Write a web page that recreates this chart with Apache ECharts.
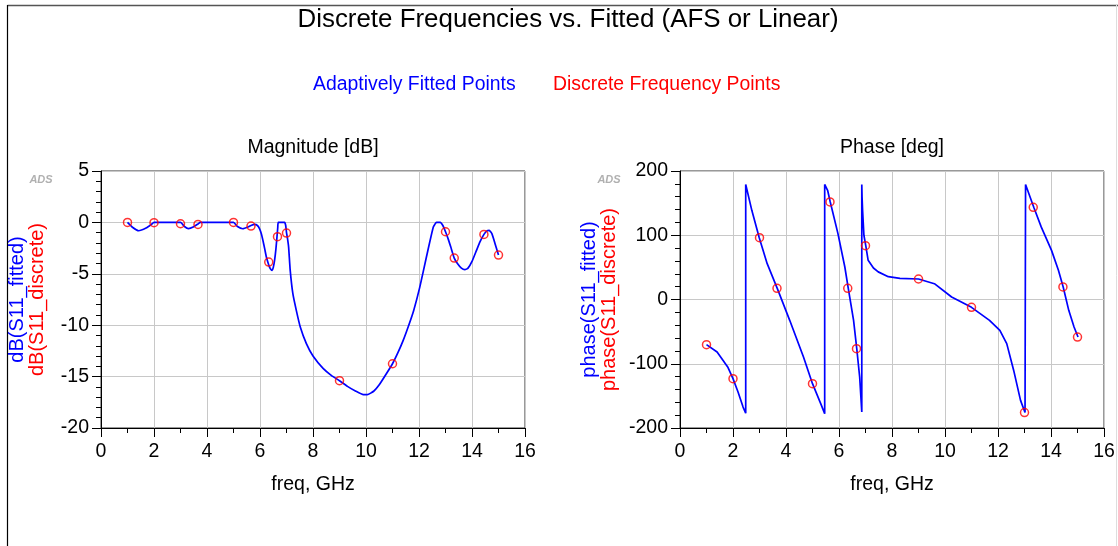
<!DOCTYPE html>
<html>
<head>
<meta charset="utf-8">
<script src="https://cdn.jsdelivr.net/npm/echarts@6/dist/echarts.min.js"></script>
<style>
  html, body { margin: 0; padding: 0; background: #fff; }
  #chart { width: 1118px; height: 546px; }
</style>
</head>
<body>
<div id="chart"></div>
<script>
// Discrete simulation frequencies (GHz) with measured S11 magnitude and phase
const discFreq  = [1, 2, 3, 3.66, 5, 5.66, 6.33, 6.66, 7, 9, 11, 13, 13.33, 14.45, 15];
const discMag   = [0, -0.03, -0.13, -0.2, 0, -0.36, -3.86, -1.39, -1.04, -15.4, -13.75, -0.91, -3.47, -1.17, -3.18];
const discPhase = [-70.3, -123.2, 96.2, 17.4, -131, 151.8, 17.4, -76.5, 83.8, 31.9, -12.2, -176, 143.5, 19.5, -58.4];

// Adaptively fitted magnitude response (dB)
const fitMagFreq = [1.0, 1.2, 1.42, 1.7, 1.9, 2.0, 3.0, 3.15, 3.3, 3.5, 3.66, 3.75, 5.0, 5.15, 5.35, 5.55, 5.66, 5.8, 5.9, 5.98, 6.05, 6.11, 6.18, 6.24, 6.3, 6.36, 6.42, 6.46, 6.5, 6.55, 6.6, 6.64, 6.67, 6.69, 6.93, 6.97, 7.0, 7.04, 7.08, 7.14, 7.24, 7.37, 7.52, 7.75, 8.0, 8.38, 8.7, 9.0, 9.3, 9.6, 9.9, 10.05, 10.3, 10.5, 10.75, 11.0, 11.2, 11.4, 11.6, 11.8, 12.03, 12.28, 12.54, 12.66, 12.8, 12.9, 13.0, 13.1, 13.2, 13.33, 13.45, 13.6, 13.73, 13.85, 14.0, 14.17, 14.3, 14.45, 14.55, 14.65, 14.75, 14.87, 15.0];
const fitMag     = [0, -0.5, -0.81, -0.55, -0.2, 0, 0, -0.4, -0.6, -0.42, -0.15, 0, 0, -0.4, -0.62, -0.45, -0.3, -0.2, -0.3, -0.6, -1.1, -1.75, -2.6, -3.37, -3.9, -4.35, -4.6, -4.67, -4.4, -3.7, -2.6, -1.43, -0.5, 0, 0, -0.3, -1.0, -1.6, -2.4, -4.67, -6.94, -8.56, -10.18, -11.8, -13.0, -14.2, -14.9, -15.4, -15.95, -16.4, -16.76, -16.76, -16.4, -15.8, -14.8, -13.75, -12.7, -11.5, -10.1, -8.56, -6.3, -3.37, -0.45, 0, 0, -0.3, -0.91, -1.6, -2.4, -3.47, -4.0, -4.45, -4.6, -4.45, -3.8, -2.72, -1.9, -1.17, -0.85, -0.78, -1.1, -2.07, -3.18];

// Adaptively fitted phase response (deg), wrapped to +/-180
const fitPhFreq = [1.0, 1.4, 1.8, 2.0, 2.19, 2.38, 2.48, 2.48, 2.71, 2.99, 3.29, 3.67, 4.14, 4.66, 5.0, 5.31, 5.46, 5.46, 5.57, 5.67, 5.96, 6.22, 6.35, 6.55, 6.67, 6.78, 6.86, 6.86, 6.87, 6.89, 6.94, 7.01, 7.1, 7.3, 7.48, 7.86, 8.3, 9.0, 9.6, 10.25, 11.0, 11.68, 12.07, 12.33, 12.59, 12.85, 13.02, 13.04, 13.04, 13.35, 13.63, 14.02, 14.28, 14.46, 14.67, 14.87, 15.02];
const fitPhase  = [-70.3, -81.7, -105, -123.2, -144, -167.4, -177, 179, 138.8, 96.2, 55.8, 17.4, -32.4, -89.5, -131, -162, -177.7, 179, 170, 151.8, 102.5, 50.6, 17.4, -32.4, -76.5, -120.6, -175, 179, 160, 139, 100, 83.8, 61, 49, 43, 35.5, 33, 31.9, 24.6, 3.9, -12.2, -32.4, -48, -68.7, -110, -157, -176, -177, 179, 143.5, 113, 76.5, 45.4, 19.5, -16.9, -42.8, -58.4];

const xTicks = { min: 0, max: 16, interval: 2 };
const magTicks = { min: -20, max: 5, interval: 5 };
const phTicks = { min: -200, max: 200, interval: 100 };

const FONT = 'Arial, "Liberation Sans", sans-serif';
const BLUE = '#0000ff';
const RED = '#ff0000';
const TXT = 19.5;

const pairs = (xs, ys) => xs.map((x, i) => [x, ys[i]]);

function xAxisFor(gridIndex) {
  return {
    type: 'value', gridIndex,
    min: xTicks.min, max: xTicks.max, interval: xTicks.interval,
    name: 'freq, GHz', nameLocation: 'middle', nameGap: 47,
    nameTextStyle: { fontFamily: FONT, fontSize: TXT, color: '#000' },
    axisLine: { show: true, onZero: false, lineStyle: { color: '#000', width: 1 } },
    axisTick: { show: true, length: 9, lineStyle: { color: '#000' } },
    minorTick: { show: true, splitNumber: 2, length: 5, lineStyle: { color: '#000' } },
    splitLine: { show: true, lineStyle: { color: '#c8c8c8', width: 1 } },
    axisLabel: { fontFamily: FONT, fontSize: TXT, color: '#000', margin: 14 }
  };
}

function yAxisFor(gridIndex, ticks, l1, l2, gap) {
  return {
    type: 'value', gridIndex,
    min: ticks.min, max: ticks.max, interval: ticks.interval,
    name: '{a|' + l1 + '}\n{b|' + l2 + '}',
    nameLocation: 'middle', nameRotate: 90, nameGap: gap,
    nameTextStyle: {
      fontFamily: FONT, fontSize: 20, lineHeight: 20,
      rich: {
        a: { color: BLUE, fontFamily: FONT, fontSize: 20, lineHeight: 20 },
        b: { color: RED, fontFamily: FONT, fontSize: 20, lineHeight: 20 }
      }
    },
    axisLine: { show: true, onZero: false, lineStyle: { color: '#000', width: 1 } },
    axisTick: { show: true, length: 9, lineStyle: { color: '#000' } },
    minorTick: { show: true, splitNumber: 5, length: 5, lineStyle: { color: '#000' } },
    splitLine: { show: true, lineStyle: { color: '#c8c8c8', width: 1 } },
    axisLabel: { fontFamily: FONT, fontSize: TXT, color: '#000', margin: 12 }
  };
}

function fitted(idx, data, smooth) {
  return {
    type: 'line', xAxisIndex: idx, yAxisIndex: idx, data,
    showSymbol: false, symbol: 'none', smooth,
    lineStyle: { color: BLUE, width: 1.7 }, z: 3, animation: false
  };
}

function discrete(idx, data) {
  return {
    type: 'scatter', xAxisIndex: idx, yAxisIndex: idx, data,
    symbol: 'circle', symbolSize: 8,
    itemStyle: { color: 'rgba(0,0,0,0)', borderColor: RED, borderWidth: 1.5 },
    z: 4, animation: false
  };
}

function label(x, y, text, size, color, extra) {
  return {
    type: 'text', x, y, silent: true,
    style: Object.assign({
      text, fill: color, font: size + 'px ' + FONT,
      textAlign: 'center', textVerticalAlign: 'middle'
    }, extra || {})
  };
}

const chart = echarts.init(document.getElementById('chart'), null, { renderer: 'canvas' });

chart.setOption({
  backgroundColor: '#fff',
  animation: false,
  grid: [
    { left: 101, top: 171, width: 424, height: 257, show: true, borderColor: '#333', borderWidth: 1, backgroundColor: 'transparent' },
    { left: 680, top: 171, width: 424, height: 257, show: true, borderColor: '#333', borderWidth: 1, backgroundColor: 'transparent' }
  ],
  xAxis: [xAxisFor(0), xAxisFor(1)],
  yAxis: [
    yAxisFor(0, magTicks, 'dB(S11_fitted)', 'dB(S11_discrete)', 54),
    yAxisFor(1, phTicks, 'phase(S11_fitted)', 'phase(S11_discrete)', 61)
  ],
  series: [
    fitted(0, pairs(fitMagFreq, fitMag), 0.15),
    discrete(0, pairs(discFreq, discMag)),
    fitted(1, pairs(fitPhFreq, fitPhase), false),
    discrete(1, pairs(discFreq, discPhase))
  ],
  graphic: [
    // page frame
    { type: 'line', silent: true, shape: { x1: 7.5, y1: 5.5, x2: 1118, y2: 5.5 }, style: { stroke: '#555', lineWidth: 1.5 } },
    { type: 'line', silent: true, shape: { x1: 7.5, y1: 5, x2: 7.5, y2: 546 }, style: { stroke: '#000', lineWidth: 1.2 } },
    { type: 'line', silent: true, shape: { x1: 1116.5, y1: 5, x2: 1116.5, y2: 546 }, style: { stroke: '#ddd', lineWidth: 1 } },
    // titles and legend
    label(568, 20, 'Discrete Frequencies vs. Fitted (AFS or Linear)', 25.9, '#000'),
    label(313, 85, 'Adaptively Fitted Points', 19.4, BLUE, { textAlign: 'left' }),
    label(553, 85, 'Discrete Frequency Points', 19.4, RED, { textAlign: 'left' }),
    label(313, 148, 'Magnitude [dB]', 19.5, '#000'),
    label(892, 148, 'Phase [deg]', 19.5, '#000'),
    // ADS marks
    label(41, 180, 'ADS', 11, '#b0b0b0', { font: 'italic bold 11px ' + FONT, shadowBlur: 2, shadowColor: '#ccc' }),
    label(609, 180, 'ADS', 11, '#b0b0b0', { font: 'italic bold 11px ' + FONT, shadowBlur: 2, shadowColor: '#ccc' })
  ]
});
</script>
</body>
</html>
